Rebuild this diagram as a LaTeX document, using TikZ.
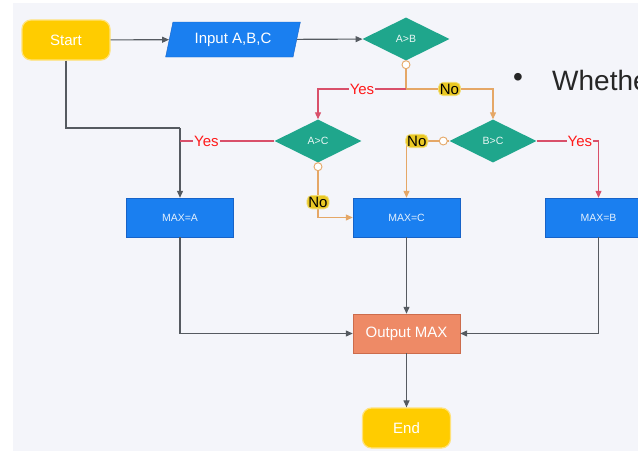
\documentclass[tikz,border=0pt]{standalone}
\usepackage{fontspec}
\setmainfont{Liberation Sans}
\usetikzlibrary{shapes.geometric,arrows.meta,calc}
\definecolor{panel}{HTML}{F4F5FA}
\definecolor{ylw}{HTML}{FFCC00}
\definecolor{ylwb}{HTML}{FFE27A}
\definecolor{blu}{HTML}{1A7FF0}
\definecolor{blub}{HTML}{1763C8}
\definecolor{tel}{HTML}{1FA68C}
\definecolor{org}{HTML}{EE8A66}
\definecolor{orgb}{HTML}{CC6C4C}
\definecolor{gline}{HTML}{555A60}
\definecolor{rline}{HTML}{D9506A}
\definecolor{oline}{HTML}{E5A766}
\definecolor{yestxt}{HTML}{FF1A1A}
\definecolor{nohl}{HTML}{E9C824}
\tikzset{
  x=1pt,y=-1pt,
  term/.style={draw=ylwb,line width=1.2pt,fill=ylw,rounded corners=9pt,minimum width=88pt,minimum height=40pt,text=white,font=\fontsize{15}{15}\selectfont,inner sep=0pt},
  iobox/.style={trapezium,trapezium left angle=71,trapezium right angle=109,trapezium stretches=true,draw=blub,fill=blu,text=white,font=\fontsize{15}{15}\selectfont,minimum height=35pt,minimum width=135pt,inner sep=0pt},
  dec/.style={diamond,fill=tel,aspect=2.05,minimum width=87pt,minimum height=43pt,inner sep=0pt,text=white!90!tel,font=\fontsize{10.5}{10.5}\selectfont},
  procbox/.style={rectangle,draw=blub,fill=blu,minimum width=107pt,minimum height=39pt,inner sep=0pt,text=white!88!blu,font=\fontsize{10.5}{10.5}\selectfont},
  outbox/.style={rectangle,draw=orgb,fill=org,minimum width=107pt,minimum height=39pt,inner sep=0pt,text=white,font=\fontsize{15}{15}\selectfont},
  gl/.style={draw=gline,line width=1.1pt,-{Triangle[length=7pt,width=6pt]}},
  gln/.style={draw=gline,line width=1.1pt},
  rl/.style={draw=rline,line width=1.1pt},
  ol/.style={draw=oline,line width=1.1pt},
  rla/.style={rl,-{Triangle[length=7pt,width=6pt]}},
  ola/.style={ol,-{Triangle[length=7pt,width=6pt]}},
  yeslbl/.style={fill=panel,text=yestxt,inner sep=1pt,font=\fontsize{15}{15}\selectfont},
  nolbl/.style={fill=nohl,draw=nohl!60!white,line width=0.8pt,rounded corners=5pt,text=black,inner sep=1.5pt,font=\fontsize{15}{15}\selectfont},
  dot/.style={circle,draw=oline,fill=white,line width=0.9pt,minimum size=8pt,inner sep=0pt}
}
\begin{document}
\begin{tikzpicture}
\useasboundingbox (0,0) rectangle (638,453);
\clip (0,0) rectangle (638,453);
\fill[white] (0,0) rectangle (638,453);
\fill[panel] (13,3) rectangle (640,451);
% text at top right
\node[text=black!85,font=\fontsize{28}{28}\selectfont,inner sep=0pt] (bul) at (518,80) {\textbullet};
\node[anchor=base west,text=black!85,font=\fontsize{28}{28}\selectfont,inner sep=0pt] (wh) at (552,90) {Whether};
% nodes
\node[term] (start) at (66,40) {Start};
\node[iobox] (input) at (233,39.5) {Input A,B,C};
\node[dec] (ab) at (406,39) {A>B};
\node[dec] (ac) at (318,141) {A>C};
\node[dec] (bc) at (493,141) {B>C};
\node[procbox] (maxa) at (180,217.5) {MAX=A};
\node[procbox] (maxc) at (406.5,217.5) {MAX=C};
\node[procbox] (maxb) at (598.5,217.5) {MAX=B};
\node[outbox] (out) at (406.5,333.5) {Output MAX};
\node[term] (end) at (406.5,428) {End};
\coordinate (j1) at (406,89);
\coordinate (k1) at (180,128);
% connectors
\draw[gl] (start) -- (input);
\draw[gl] (input) -- (ab);
\draw[ol] (ab.south) -- (j1);
\draw[rla] (j1) -| (ac.north) node[yeslbl,pos=0.25] {Yes};
\draw[ola] (j1) -| (bc.north) node[nolbl,pos=0.25] {No};
\draw[gln] (start.south) |- (k1);
\draw[gl] (k1) -- (maxa.north);
\draw[rl] (ac.west) -- (ac.west -| maxa.north) node[yeslbl,pos=0.72] {Yes};
\draw[ola] (ac.south) |- (maxc.west) node[nolbl,pos=0.36] {No};
\draw[ola] (bc.west) -| (maxc.north) node[nolbl,pos=0.38] {No};
\draw[rla] (bc.east) -| (maxb.north) node[yeslbl,pos=0.35] {Yes};
\draw[gl] (maxa.south) |- (out.west);
\draw[gl] (maxc.south) -- (out.north);
\draw[gl] (maxb.south) |- (out.east);
\draw[gl] (out.south) -- (end.north);
% small joint circles
\node[dot] (d1) at ($(ab.south)+(0,4)$) {};
\node[dot] (d2) at ($(ac.south)+(0,4)$) {};
\node[dot] (d3) at ($(bc.west)+(-6,0)$) {};
\end{tikzpicture}
\end{document}
